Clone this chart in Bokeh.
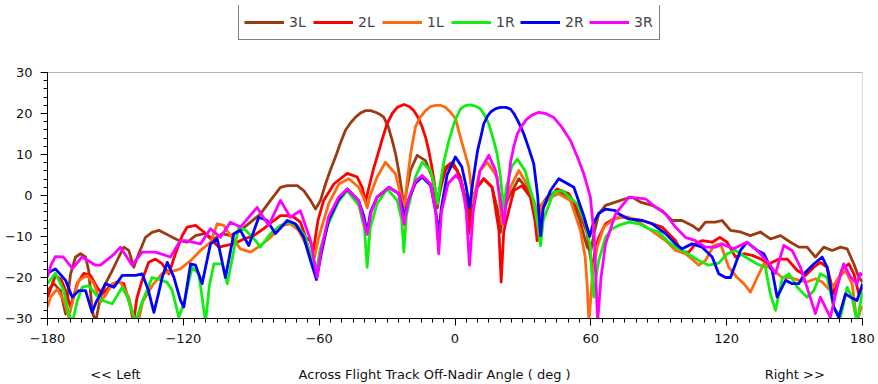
from bokeh.plotting import figure
from bokeh.models import (Range1d, SingleIntervalTicker, FixedTicker, LinearAxis, Legend,
                          LegendItem, ColumnDataSource, BoxAnnotation)
from bokeh.embed import file_html
from bokeh.resources import INLINE

# Beam gain patterns (dB) vs across-track off-nadir angle (deg)
BEAMS = ["3L", "2L", "1L", "1R", "2R", "3R"]
COLORS = ["#9a3c10", "#ff0000", "#ff6a10", "#10ee10", "#0000ff", "#ff00ff"]

ANG_3L = [-180, -177.2, -174.3, -172, -169.8, -167.6, -165.4, -163.2, -161.8, -160.3, -158.8, -156.6,
          -154.4, -151.4, -148.5, -146.3, -144.1, -141.9, -139.7, -136.7, -133.8, -130.8, -127.9,
          -124.9, -122, -118.3, -114.6, -110.9, -106.5, -102.8, -99.2, -94.8, -90.3, -85.9, -81.5,
          -77.1, -74.1, -69.7, -66.8, -63.8, -61.6, -59.4, -57.2, -55, -52.8, -50.6, -48.4, -46,
          -43.9, -41.5, -39.5, -37.3, -35.1, -33.2, -31.5, -29.5, -27.7, -26.2, -24.9, -23.6, -22.6,
          -21.5, -19.7, -16.7, -13, -10.1, -8.6, -7.8, -7, -4.2, -1, 2.4, 4.8, 6.1, 7.5, 9.8, 12.7,
          16.4, 19, 20.1, 21.2, 23.8, 28.2, 32.6, 35.3, 36.3, 37.3, 40.7, 45.1, 50.3, 54.7, 58.4,
          60, 61.5, 63.5, 66.5, 70.9, 75.3, 78.2, 81.9, 87.1, 91.5, 95.9, 100.3, 104.7, 107.7,
          110.6, 115, 118, 121.7, 126.1, 130.5, 134.9, 139.3, 143.8, 148.2, 151.9, 155.5, 159.2,
          162.9, 166.6, 170.3, 173.2, 176.2, 178.4, 180]
DB_3L = [-23.2, -21.5, -23.2, -28.9, -19.1, -15, -14.2, -15, -18.3, -28, -31, -24.8,
         -21.5, -18.3, -15, -12.6, -13.4, -17.5, -14.2, -10.2, -9, -8.5, -9.3,
         -10.2, -11, -11.4, -9.8, -9.3, -10.6, -9.3, -9.8, -8.5, -6.5, -4.5, -1.2,
         2, 2.4, 2.4, 1.2, -1.2, -3.3, -1.2, 2.8, 6.3, 9.4, 12.8, 15.9, 17.8,
         19.1, 20.2, 20.7, 20.7, 20.3, 19.8, 19.1, 16.8, 13.4, 10, 6.1, 1.5, -3,
         1, 6.1, 9.8, 8.5, 4.5, 0, -3, 0, 6.9, 8.2, 4.5, -1, -5.5, -1, 2, 4.1,
         2, -4, -9, -4, -0.4, 4.1, 1.2, -3, -6.5, -3, -0.4, 1.2, -0.4, -5.3, -12.6,
         -13.5, -9, -4.5, -2.4, -1.6, -0.8, -0.4, -1.6, -2.4, -3.7, -6.1, -6.1, -7.3, -8.5,
         -6.5, -6.5, -6.1, -8.5, -8.9, -9.8, -8.9, -10.6, -9.8, -11.4, -12.6, -12.6, -15,
         -12.6, -13.4, -12.6, -13, -16.7, -20, -21.1]

ANG_2L = [-180, -176.5, -174, -172, -169.8, -166.9, -164, -161, -158.1, -155.8, -152.2, -149.2,
          -146.3, -143.3, -142, -140.5, -138.2, -135.3, -132.3, -129.3, -126.4, -123.5, -120.5,
          -118.3, -114.6, -110.9, -107.2, -104.3, -101.4, -97.7, -93.3, -88.9, -84.5, -80, -77.1,
          -74.1, -71.2, -68.3, -66, -64, -62.6, -60.5, -58, -53.5, -47.6, -43.2, -41, -39.5, -38,
          -36, -34.4, -32, -30, -27.7, -25.5, -22.6, -20.2, -18.2, -16.3, -14.5, -13, -11.6, -10.4,
          -9.3, -7.9, -6.5, -4.2, -2, 1, 4.6, 6.1, 7.5, 9.8, 12.7, 16.4, 19.4, 20.4, 21.5, 22.3,
          26, 29.6, 33.3, 35.3, 36.3, 37.3, 40.7, 45.1, 50.3, 55.4, 58.4, 59.8, 60.8, 62, 63.5,
          66.5, 70.1, 73.8, 78.2, 82.7, 87.1, 91.5, 94.4, 97.4, 100.3, 103.3, 106.2, 109.2, 113.6,
          117, 120.2, 123.9, 127.6, 131.3, 135, 138.7, 143.1, 146.8, 151.2, 154.8, 158.5, 161.4,
          164.4, 167.3, 171, 174, 176.2, 178.4, 180]
DB_2L = [-24.8, -19.5, -20.5, -23.2, -27.2, -21.5, -19, -19.5, -22.4, -24, -22, -21.1,
         -21.5, -27.2, -31, -25, -20.7, -16.3, -15.5, -16.7, -19.1, -14.2, -9.8,
         -7.7, -7.3, -8.9, -11, -12.6, -12.2, -11.8, -10.6, -9.8, -8.1, -6.1, -4.9,
         -4.9, -5.3, -6.5, -10.2, -11, -13.5, -6, -1.2, 2.8, 5.4, 4.5, 2, -1.5, 2,
         6.5, 9.4, 14, 17.5, 20, 21.5, 22.2, 21.7, 20.7, 19, 16.7, 14.2, 11, 7.5,
         3.7, -2, 2, 6.1, 7.8, 6.1, -1.2, -9.3, -1.5, 2, 4.1, 2, -8.5, -21.1, -9, -6.9,
         1.2, 2.4, -0.4, -6, -11, -5, -1.2, 1.6, 0.4, -4.5, -9.3, -15, -17.5, -13, -10.2,
         -6.9, -5.7, -5.3, -5.7, -6.1, -6.9, -7.7, -9.3, -11, -13.8, -13.8, -11.8, -11, -11.4,
         -10.2, -11.4, -15, -14.2, -14.6, -15.5, -16.7, -15.5, -15.5, -18.3, -19.5, -17.5, -16.3,
         -17.5, -24, -17.9, -16.7, -19.1, -24, -22.4]

ANG_1L = [-180, -178.7, -175.7, -172.8, -170.6, -168.5, -166.2, -162.5, -159.5, -156.6, -154,
          -151.4, -147.8, -144.1, -141.9, -140, -138, -133.8, -129.3, -125, -121.3, -116.8, -112.4,
          -108, -105, -102.1, -99.2, -94.8, -90.3, -85.9, -81.5, -76.3, -72.7, -69, -66, -63.1,
          -62, -60.2, -55.8, -51.3, -46.9, -42.5, -40, -38.8, -37.5, -34.4, -30.7, -26.3, -23.3,
          -22.3, -21, -19.5, -17.5, -15.5, -13, -10.8, -8.6, -6.5, -4.2, -2, 0.2, 2.4, 4.3, 6.1,
          7.4, 8.2, 9.3, 11, 14.2, 18.6, 20.8, 22, 24.5, 28.2, 32.6, 35.3, 37, 38.5, 42.2, 45.8,
          51, 55.4, 57.5, 58.4, 59.2, 60.6, 62.8, 65.7, 69.4, 72.3, 76.8, 81.2, 85.6, 88.6, 93,
          97.4, 101.8, 104.7, 107.7, 110.6, 114.3, 117.3, 120.9, 124.6, 127.6, 130.5, 133.5,
          136.4, 140.8, 144.5, 148.2, 151.9, 155.5, 159.2, 162.2, 165.8, 169.5, 172.5, 175.4,
          177.6, 179, 180]
DB_1L = [-27.2, -24.8, -22.8, -25.6, -29.7, -25, -20.7, -19.5, -21.5, -26, -24,
         -21.5, -21.1, -24.8, -29.7, -31, -26, -22, -19, -18.5, -17.9, -15.9, -13.4,
         -11.4, -6.9, -7.3, -9.8, -13, -13.8, -12.2, -10.2, -7.3, -6.9, -8.5, -11.8, -16,
         -15, -10.2, -2, 2.8, 4.1, 2, -1, -3, 0, 4.5, 8.1, 5.3, -1.2,
         -3, 4, 10.5, 16.7, 19, 20.7, 21.7, 22, 22, 21.5, 20.3, 18.8, 14.2, 10.5, 6.9,
         1, -2, 2, 6, 8.1, 4.5, -6.9, -2, 2, 6.1, 2, -2, -5.5, -2, -0.4, 0.4,
         -1.2, -8.5, -15, -22, -31, -20, -12.6, -7.7, -6.1, -5.3, -5.3, -6.5, -8.1, -9.3, -11,
         -13.4, -14.2, -15.5, -17, -15.9, -12.2, -11.8, -17.5, -20, -21.5, -23.6, -20,
         -16.7, -18.3, -20, -20, -20.7, -21.1, -20.3, -21.1, -23.2, -20, -18.3, -21.5,
         -31, -28, -27]

ANG_1R = [-180, -176.5, -172.8, -170.6, -169, -167, -164.7, -161.8, -158.8, -155.8, -151.4, -147,
          -144.5, -141.1, -138.9, -136.7, -133.8, -130.5, -127.1, -124.9, -122, -119.8, -116.1,
          -113.2, -111.7, -110.2, -108.5, -106.5, -102.8, -100.6, -97.7, -95.5, -92.5, -88.1, -86,
          -81.5, -77.1, -73.4, -69.7, -66, -63.1, -61.5, -59.5, -55.9, -51.5, -47.6, -42.5, -40,
          -38.8, -37.5, -34.4, -30, -25.5, -23.5, -22.6, -21.5, -17.5, -14.5, -10.8, -8.5, -7.8,
          -6.5, -5, -2.7, -1, 0.2, 2.4, 4.5, 6.8, 9, 11.3, 13.2, 14.9, 16.8, 18.6, 20, 21.5, 22.7,
          25, 27.5, 31, 34.5, 36.5, 37.8, 39, 43.6, 47.3, 53.9, 57.6, 59.8, 60.3, 61.3, 62.5, 63.5,
          66.5, 69.4, 72.3, 76.8, 81.2, 85.6, 90, 94.4, 97.4, 101.8, 107.7, 112.1, 116.5, 120.2,
          123.9, 128.3, 133.5, 137.1, 139.3, 141.6, 144.5, 147.5, 151.2, 155.5, 158.5, 161.4,
          164.4, 167.3, 170.3, 173.2, 175.4, 177.6, 180]
DB_1R = [-21.5, -19, -23.2, -29, -31, -26, -22.4, -22, -24, -25.6, -26.4, -22.4,
         -25, -31, -27, -24, -20, -20.5, -21.2, -23.2, -29.7, -26.4, -17.5,
         -19.1, -24.8, -31, -22, -16.7, -16.7, -21.5, -13.4, -7.7, -8.5, -11, -12.6,
         -9.3, -7.3, -6.5, -7.3, -10.2, -15.9, -19, -13, -6.9, -1.5, 1.2, -2.4, -8,
         -17.5, -8, -2, 1.6, -1.2, -6, -13.8, -5, 4.5, 8.1, 6.1, 1, -2,
         3, 8, 13.4, 16.5, 18.5, 21.1, 21.9, 22.1, 21.8, 21.1, 19.5, 17.5, 14, 10.2, 5, -3, 2,
         7, 8.9, 6, -1, -7, -12.2, -6, 0.8, 1.2, -2, -6.9, -12.6, -18, -24.8, -19, -15.9,
         -10.2, -8.1, -7.3, -6.5, -6.9, -8.1, -8.9, -11.4, -12.6, -13.8, -15.9, -17, -16.5, -14.2,
         -13.4, -15, -16.7, -17.5, -24, -28, -20.3, -19.1, -22.4, -24.8, -23.2, -19.1,
         -20, -27.2, -29.7, -22.4, -24.8, -31, -23.2]

ANG_2R = [-180, -176.5, -172, -169.1, -166.2, -163.2, -160.3, -158.5, -156.6, -154.4, -150.7, -147,
          -141.1, -138.2, -135.5, -133, -131, -129.3, -127.1, -124.2, -121.3, -119.8, -116.8,
          -114.6, -111.7, -108, -105, -101.4, -97.7, -94.8, -91.1, -86.7, -83, -79.3, -74.1, -70.5,
          -66.8, -63.8, -61.2, -59, -55.9, -51.5, -47.6, -42.6, -40.3, -38.8, -37.3, -34.4, -29.2,
          -24.9, -22.3, -20.5, -17.5, -14.5, -10.8, -8.5, -7.2, -6, -3.5, 0.2, 3, 5, 6.4, 7.8, 9,
          10, 11.5, 12.7, 14.5, 16, 18, 20.1, 22.5, 24.5, 26, 27.5, 29, 30.4, 32.6, 34.8, 36.5,
          37.8, 39, 42.2, 45.8, 52.5, 56.9, 59.5, 61, 63.4, 66.5, 70.9, 72, 76.6, 82.7, 87.1, 93,
          97.4, 100.3, 104.7, 109.2, 113.6, 116.5, 119.5, 121.7, 126.1, 129, 133.5, 136.4, 140.1,
          142.3, 146, 148.9, 151.9, 154.8, 158.5, 162.2, 164.4, 167.3, 169.5, 172.5, 174.7, 177.6,
          180]
DB_2R = [-19, -17.9, -20.7, -24.8, -23.2, -23.2, -28.5, -26, -24, -21.5, -22.4, -19.5,
         -19.5, -19.1, -23, -28.5, -24, -19.9, -16.3, -19.9, -25.5, -27.2, -16.7,
         -17, -21.5, -11.8, -10.6, -20, -9.3, -8.5, -12.2, -5.3, -6.1, -9.3, -6.1, -6.9,
         -10.2, -15.9, -20.5, -14, -6.1, -1, 1.6, -1.2, -5, -9, -4, -0.4, 2,
         0.5, -5, -1, 3, 4.5, 2.5, -4, -9.3, -3, 5, 9.4, 7, 2, -3, 3, 7.5,
         11, 14.5, 17.5, 19.5, 20.5, 21.2, 21.5, 21.5, 21.1, 20, 18.5, 16.8, 15, 11.5, 7.7, 0,
         -9.8, -3, 1.2, 4.1, 2, -5, -10, -7, -4.4, -3.3, -3.7, -4.4, -5.7, -6.1, -6.9, -9.3,
         -11.8, -13, -11.8, -12.6, -15, -19.1, -20, -20, -13.4, -11.4, -13.4, -14.2, -18.3,
         -24.8, -20.7, -21.5, -21.5, -18.7, -16.7, -15, -17.5, -27.2, -29.7, -24, -24.8, -25.6,
         -21.5]

ANG_3R = [-180, -178.5, -176.5, -173, -169, -164.7, -158.8, -156.6, -151, -147.8, -142.6, -138.2,
          -132.3, -125.7, -121.3, -119, -112.4, -108, -103.6, -99.2, -94.8, -87.4, -82.3, -77.1,
          -72.7, -68.3, -63.8, -60.9, -59, -55.9, -51.5, -47.6, -42.6, -38.8, -37, -34.4, -29.2,
          -24.9, -22.5, -20.5, -17.5, -14.5, -10.8, -8.5, -7.2, -6, -3, 0.5, 3, 5, 6.4, 8, 11,
          14.9, 18, 20.1, 21.5, 23, 24.5, 26, 27.5, 29.5, 31.5, 34, 37, 40, 43.5, 47, 51, 54,
          56.9, 59.8, 61.5, 63, 64.5, 66.5, 70.9, 76.8, 84.1, 88.6, 93, 97.4, 101.8, 106.2, 110.6,
          115, 118, 123, 129, 133.5, 139.3, 141.6, 145.2, 148.9, 152.6, 155.5, 159.2, 161.4, 165.8,
          169, 171.7, 174.7, 177.6, 179, 180]
DB_3R = [-19.9, -17, -14.9, -15, -17.8, -15, -17, -17, -14.5, -12.6, -17, -13.8,
         -13.8, -15, -11, -11, -11.8, -8.1, -10.2, -6.5, -7.7, -2.9, -7.3, -1.2,
         -5.3, -3.7, -11, -20, -13, -5.3, -0.5, 1.6, -1.2, -9.5, -4, -0.4, 2,
         0.5, -7, -1, 3.5, 4.9, 2.8, -4, -14.2, -4, 3, 5, 3, -4, -17, -4, 6,
         9.8, 6, -1.2, -7, 0, 8, 12, 15, 17, 18.5, 19.6, 20.3, 20, 19.1, 16.8, 13.4, 9.5,
         5.3, -0.4, -10, -31, -20, -11.8, -4.5, -0.4, -0.8, -2.8, -4.5, -7.7, -10.2, -11, -12.6,
         -12.6, -11.8, -13, -11.4, -13.4, -17, -19, -12.2, -13.4, -17.5, -22.4, -28.8, -24.8, -29.7,
         -22, -16.7, -19.9, -21.5, -19, -19.5]

ANGLES = [ANG_3L, ANG_2L, ANG_1L, ANG_1R, ANG_2R, ANG_3R]
GAINS = [DB_3L, DB_2L, DB_1L, DB_1R, DB_2R, DB_3R]

# Direction hints and axis title printed under the angle scale
CAPTION_POS = [-150, -9, 151]
CAPTION_TXT = ["<< Left", "Across Flight Track Off-Nadir Angle ( deg )", "Right  >>"]

FONT = "DejaVu Sans"
Y_LO, Y_HI = -30, 30
# the frame runs up to the top of the canvas so the legend can sit above the gain box
Y_TOP = Y_HI + 67 / 4.1

p = figure(width=878, height=384, output_backend="svg", toolbar_location=None,
           x_range=Range1d(-180, 180), y_range=Range1d(Y_LO, Y_TOP),
           min_border_left=47, min_border_right=16, min_border_top=5, min_border_bottom=66,
           background_fill_color="white", border_fill_color="white")
p.grid.visible = False
p.outline_line_color = None

p.xaxis.ticker = SingleIntervalTicker(interval=60, num_minor_ticks=12)
p.yaxis.ticker = SingleIntervalTicker(interval=10, num_minor_ticks=5)
p.yaxis.bounds = (Y_LO, Y_HI)
for ax in (p.xaxis[0], p.yaxis[0]):
    ax.axis_line_color = "black"
    ax.axis_line_width = 1
    ax.major_tick_line_color = "black"
    ax.minor_tick_line_color = "black"
    ax.major_tick_in = 0
    ax.major_tick_out = 7
    ax.minor_tick_in = 0
    ax.minor_tick_out = 4
    ax.major_label_text_font = FONT
    ax.major_label_text_font_size = "13px"
    ax.major_label_text_color = "#111111"
p.xaxis.major_label_standoff = 8
p.yaxis.major_label_standoff = 8

# box around the gain area
p.add_layout(BoxAnnotation(left=-180, right=180, bottom=Y_LO, top=Y_HI, fill_color=None,
                           line_color="black", line_width=1, level="underlay"))

# second row under the x axis carrying the caption texts
caption_axis = LinearAxis(ticker=FixedTicker(ticks=CAPTION_POS, minor_ticks=[]),
                          major_label_overrides=dict(zip(CAPTION_POS, CAPTION_TXT)),
                          axis_line_color=None, major_tick_line_color=None,
                          minor_tick_line_color=None, major_tick_in=0, major_tick_out=0,
                          major_label_standoff=21, major_label_text_font=FONT,
                          major_label_text_font_size="13px", major_label_text_color="#111111")
p.add_layout(caption_axis, "below")

renderers = []
for beam, color, xs, ys in zip(BEAMS, COLORS, ANGLES, GAINS):
    src = ColumnDataSource(dict(x=xs, y=ys))
    r = p.line("x", "y", source=src, line_color=color, line_width=2.8, line_join="round")
    renderers.append((beam, r))

legend = Legend(items=[LegendItem(label=b, renderers=[r]) for b, r in renderers],
                orientation="horizontal", location=(191, 278),
                glyph_width=40, glyph_height=24, label_height=24, label_width=20,
                label_standoff=5, spacing=4, padding=5, margin=0,
                label_text_font=FONT, label_text_font_size="14px",
                border_line_color="black", border_line_width=1.5,
                background_fill_alpha=1.0)
p.add_layout(legend, "center")

open("out.html", "w").write(file_html(p, INLINE))
